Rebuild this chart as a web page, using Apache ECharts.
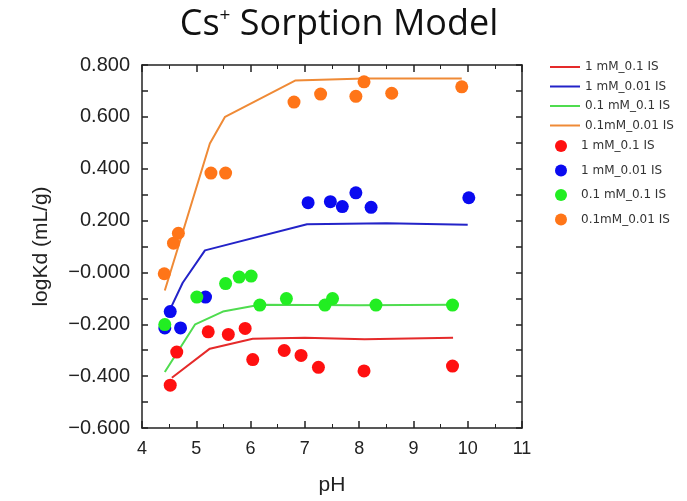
<!DOCTYPE html>
<html>
<head>
<meta charset="utf-8">
<script src="https://cdn.jsdelivr.net/npm/echarts@6/dist/echarts.min.js"></script>
<style>html,body{margin:0;padding:0;background:#fff}#c{width:687px;height:501px}</style>
</head>
<body>
<div id="c"></div>
<script>
// Model lines [pH, logKd]
const line_1mM_01IS = [[4.55,-0.406],[5.25,-0.294],[6.04,-0.256],[7.0,-0.252],[8.1,-0.258],[9.73,-0.252]];
const line_1mM_001IS = [[4.5,-0.15],[4.75,-0.04],[5.16,0.085],[7.04,0.186],[8.5,0.19],[10.0,0.184]];
const line_01mM_01IS = [[4.42,-0.384],[4.98,-0.2],[5.49,-0.151],[6.17,-0.125],[8.0,-0.127],[9.73,-0.125]];
const line_01mM_001IS = [[4.42,-0.07],[4.74,0.148],[5.25,0.497],[5.53,0.6],[6.82,0.74],[8.1,0.748],[9.89,0.748]];
// Measured points [pH, logKd]
const pts_1mM_01IS = [[4.52,-0.435],[4.64,-0.307],[5.22,-0.229],[5.59,-0.239],[5.90,-0.216],[6.04,-0.336],[6.62,-0.301],[6.93,-0.320],[7.25,-0.366],[8.09,-0.380],[9.72,-0.361]];
const pts_1mM_001IS = [[4.42,-0.214],[4.52,-0.151],[4.71,-0.214],[5.17,-0.095],[7.06,0.269],[7.47,0.273],[7.69,0.254],[7.94,0.307],[8.22,0.251],[10.02,0.288]];
const pts_01mM_01IS = [[4.42,-0.201],[5.01,-0.095],[5.54,-0.043],[5.79,-0.018],[6.01,-0.014],[6.17,-0.126],[6.66,-0.101],[7.37,-0.126],[7.51,-0.101],[8.31,-0.126],[9.72,-0.126]];
const pts_01mM_001IS = [[4.41,-0.005],[4.58,0.113],[4.67,0.151],[5.27,0.383],[5.54,0.383],[6.80,0.657],[7.29,0.688],[7.94,0.679],[8.09,0.735],[8.60,0.691],[9.89,0.716]];

const lineNames = ['1 mM_0.1 IS','1 mM_0.01 IS','0.1 mM_0.1 IS','0.1mM_0.01 IS'];
const dotNames = ['1 mM_0.1 IS ','1 mM_0.01 IS ','0.1 mM_0.1 IS ','0.1mM_0.01 IS '];
const lineColors = ['#e52a2a','#2323c8','#4fdc4f','#ef8a36'];
const dotColors = ['#ff1010','#0a0af0','#22ee22','#ff7518'];

const FONT = 'Liberation Sans, Arial, sans-serif';
const LFONT = 'DejaVu Sans, sans-serif';
const chart = echarts.init(document.getElementById('c'));
const lineData = [line_1mM_01IS, line_1mM_001IS, line_01mM_01IS, line_01mM_001IS];
const dotData = [pts_1mM_01IS, pts_1mM_001IS, pts_01mM_01IS, pts_01mM_001IS];
const series = [];
lineData.forEach((d,i)=>series.push({name:lineNames[i],type:'line',data:d,symbol:'none',showSymbol:false,lineStyle:{color:lineColors[i],width:2},itemStyle:{color:lineColors[i]},z:2,animation:false}));
dotData.forEach((d,i)=>series.push({name:dotNames[i],type:'scatter',data:d,symbol:'circle',symbolSize:13,itemStyle:{color:dotColors[i],opacity:1},z:3,animation:false}));

function yfmt(v){ if (Math.abs(v)<1e-9) return '\u22120.000'; return (v<0?'\u2212':'') + Math.abs(v).toFixed(3); }
const axLine = {show:true,onZero:false,lineStyle:{color:'#222',width:1.5}};
chart.setOption({
  animation:false,
  title:{text:'{a|Cs}{s|+}{a| Sorption Model}',left:334,top:1,textAlign:'center',
    textStyle:{fontWeight:'normal',rich:{a:{fontSize:36,fontWeight:'normal',fontFamily:'Open Sans, Noto Sans, sans-serif',color:'#111'},s:{fontSize:19,fontWeight:'normal',fontFamily:'Open Sans, sans-serif',color:'#111',verticalAlign:'top',padding:[0,0,18,0]}}}},
  grid:{left:142,width:380,top:65,height:375},
  legend:[
    {data:lineNames,orient:'vertical',left:545,top:56,itemWidth:30,itemHeight:2,icon:'rect',itemGap:7.5,textStyle:{fontSize:12,lineHeight:12,color:'#333',fontFamily:LFONT}},
    {data:dotNames,orient:'vertical',left:550,top:135,itemWidth:30,itemHeight:12,itemGap:12.5,icon:'circle',textStyle:{fontSize:12,lineHeight:12,color:'#333',fontFamily:LFONT}}
  ],
  xAxis:[
    {type:'value',min:4,max:11,interval:1,position:'bottom',name:'pH',nameLocation:'middle',nameGap:47,
     nameTextStyle:{fontSize:21,color:'#222',fontFamily:FONT},
     axisLine:axLine,axisTick:{inside:true,length:7,lineStyle:{color:'#222',width:1.5}},
     minorTick:{show:true,splitNumber:2,length:4,lineStyle:{color:'#222',width:1}},
     axisLabel:{fontSize:18,color:'#222',margin:12,fontFamily:FONT},splitLine:{show:false}},
    {type:'value',min:4,max:11,interval:1,position:'top',
     axisLine:axLine,axisTick:{inside:true,length:7,lineStyle:{color:'#222',width:1.5}},
     minorTick:{show:true,splitNumber:2,length:4,lineStyle:{color:'#222',width:1}},
     axisLabel:{show:false},splitLine:{show:false}}
  ],
  yAxis:[
    {type:'value',min:-0.6,max:0.8,interval:0.2,position:'left',name:'logKd (mL/g)',nameLocation:'middle',nameGap:90,nameRotate:90,
     nameTextStyle:{fontSize:21,color:'#222',fontFamily:FONT},
     axisLine:axLine,axisTick:{inside:true,length:6,lineStyle:{color:'#222',width:1.5}},
     minorTick:{show:true,splitNumber:2,length:6,lineStyle:{color:'#222',width:1.5}},
     axisLabel:{fontSize:20,color:'#222',margin:12,fontFamily:FONT,formatter:yfmt},splitLine:{show:false}},
    {type:'value',min:-0.6,max:0.8,interval:0.2,position:'right',
     axisLine:axLine,axisTick:{inside:true,length:6,lineStyle:{color:'#222',width:1.5}},
     minorTick:{show:true,splitNumber:2,length:6,lineStyle:{color:'#222',width:1.5}},
     axisLabel:{show:false},splitLine:{show:false}}
  ],
  series:series
});
</script>
</body>
</html>
